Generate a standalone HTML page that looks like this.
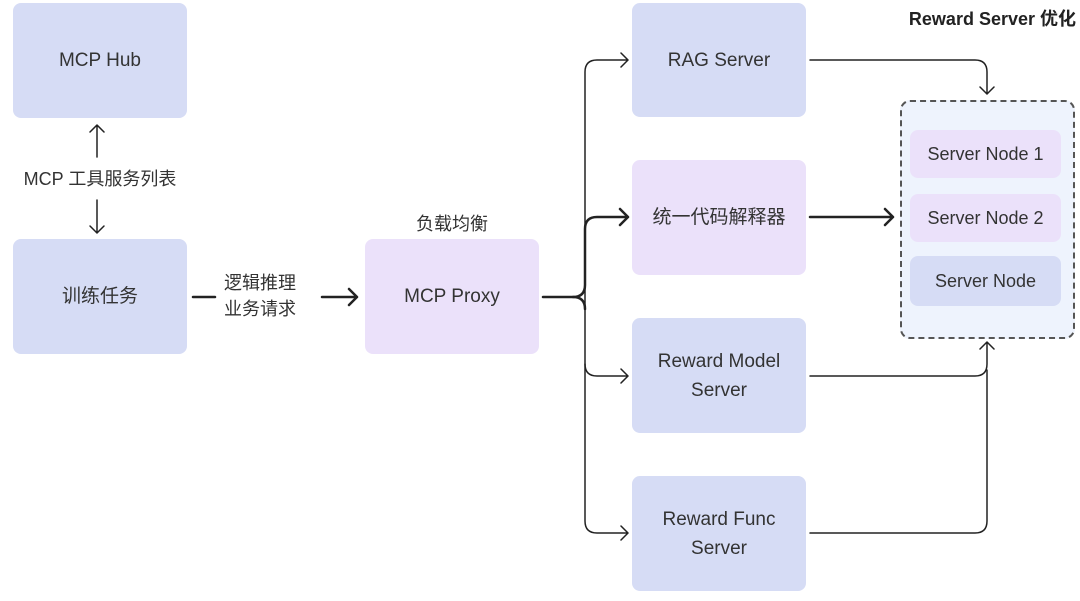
<!DOCTYPE html><html><head><meta charset="utf-8"><style>
body{margin:0;width:1080px;height:601px;background:#fff;position:relative;overflow:hidden;font-family:"Liberation Sans","Noto Sans CJK SC",sans-serif;color:#333}
.b{position:absolute;border-radius:8px;display:flex;align-items:center;justify-content:center;text-align:center;font-size:19px;line-height:29px}
.bl{background:#d6dcf5}.pu{background:#ebe1fa}
.t{position:absolute;font-size:18px;text-align:center;line-height:26px}
</style></head><body>
<div class="b bl" style="left:13px;top:3px;width:174px;height:115px">MCP Hub</div>
<div class="b bl" style="left:13px;top:239px;width:174px;height:115px">训练任务</div>
<div class="b pu" style="left:365px;top:239px;width:174px;height:115px">MCP Proxy</div>
<div class="b bl" style="left:632px;top:3px;width:174px;height:114px">RAG Server</div>
<div class="b pu" style="left:632px;top:160px;width:174px;height:115px">统一代码解释器</div>
<div class="b bl" style="left:632px;top:318px;width:174px;height:115px">Reward Model<br>Server</div>
<div class="b bl" style="left:632px;top:476px;width:174px;height:115px">Reward Func<br>Server</div>
<div style="position:absolute;left:900px;top:100px;width:171px;height:235px;border:2px dashed #555;border-radius:10px;background:#eef3fd"></div>
<div class="b pu" style="left:910px;top:130px;width:151px;height:48px;font-size:18px">Server Node 1</div>
<div class="b pu" style="left:910px;top:194px;width:151px;height:48px;font-size:18px">Server Node 2</div>
<div class="b bl" style="left:910px;top:256px;width:151px;height:50px;font-size:18px">Server Node</div>
<div class="t" style="left:10px;top:166px;width:180px">MCP 工具服务列表</div>
<div class="t" style="left:210px;top:270px;width:100px">逻辑推理<br>业务请求</div>
<div class="t" style="left:390px;top:211px;width:124px">负载均衡</div>
<div class="t" style="left:850px;top:6px;width:226px;font-weight:bold;font-size:18px;text-align:right;color:#222">Reward Server 优化</div>
<svg width="1080" height="601" style="position:absolute;left:0;top:0" fill="none" stroke="#222" stroke-linecap="round" stroke-linejoin="round">
<g stroke-width="1.5">
<path d="M97 157V125M90 132l7-7 7 7"/>
<path d="M97 200V233M90 226l7 7 7-7"/>
<path d="M628 60H597q-12 0-12 12V521q0 12 12 12H628M621 53l7 7-7 7M621 526l7 7-7 7"/>
<path d="M585 364v0q0 12 12 12H628M621 369l7 7-7 7"/>
<path d="M810 60H975q12 0 12 12V94M980 87l7 7 7-7"/>
<path d="M810 376H975q12 0 12-12V342M980 349l7-7 7 7"/>
<path d="M810 533H975q12 0 12-12V370"/>
</g>
<g stroke-width="2.5">
<path d="M193 297H215M322 297H357M349 289l8 8-8 8"/>
<path d="M543 297H573q12 0 12-12V229q0-12 12-12H628M620 209l8 8-8 8"/>
<path d="M573 297q12 0 12 12"/>
<path d="M810 217H893M885 209l8 8-8 8"/>
</g>
</svg>
</body></html>
